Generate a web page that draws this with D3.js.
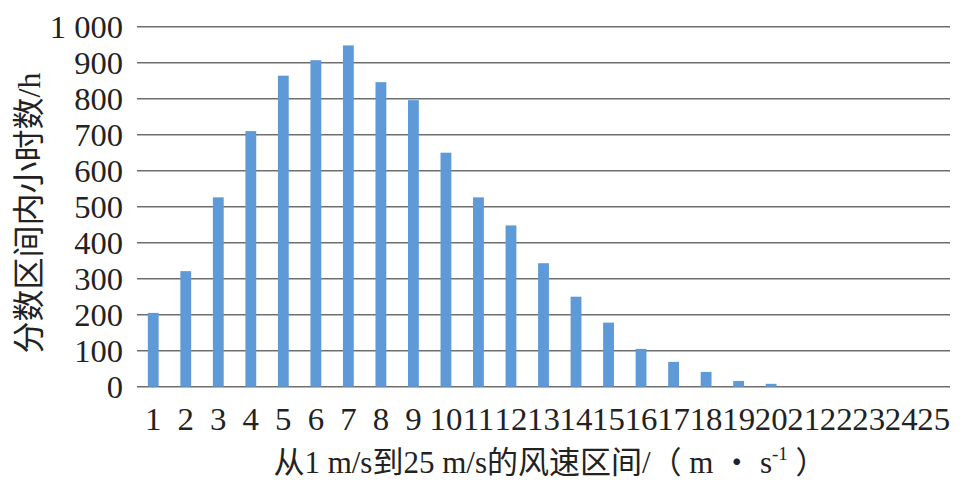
<!DOCTYPE html>
<html>
<head>
<meta charset="utf-8">
<script src="https://cdn.jsdelivr.net/npm/d3@7"></script>
<style>
  html, body { margin: 0; padding: 0; background: #fff; }
  svg { display: block; }
  text { font-family: "Liberation Serif", "Noto Sans CJK SC", serif; fill: #222; }
</style>
</head>
<body>
<svg id="chart" width="965" height="489"></svg>
<script>
const categories = ["1","2","3","4","5","6","7","8","9","10","11","12","13","14","15","16","17","18","19","20","21","22","23","24","25"];
const hours = [205, 321, 526, 710, 864, 907, 948, 846, 796, 650, 526, 448, 343, 250, 178, 105, 69, 41, 16, 8, 0, 0, 0, 0, 0];
const yTicks = [0, 100, 200, 300, 400, 500, 600, 700, 800, 900, 1000];
const yTickLabels = ["0", "100", "200", "300", "400", "500", "600", "700", "800", "900", "1 000"];
const xTitleMain = "从1 m/s到25 m/s的风速区间/（ m ・ s";
const xTitleSup = "-1";
const xTitleEnd = " ）";
const yTitle = "分数区间内小时数/h";

const svg = d3.select("#chart");
const plotLeft = 137, plotRight = 950, plotTop = 26.7, plotBottom = 386.7;

const x = d3.scaleBand().domain(categories).range([plotLeft, plotRight]).paddingInner(0.667).paddingOuter(0.333);
const y = d3.scaleLinear().domain([0, 1000]).range([plotBottom, plotTop]);

// gridlines
svg.append("g").selectAll("line").data(yTicks).join("line")
  .attr("x1", plotLeft).attr("x2", plotRight)
  .attr("y1", d => y(d)).attr("y2", d => y(d))
  .attr("stroke", "#6e6e6e").attr("stroke-width", 1.4);

// bars
svg.append("g").selectAll("rect").data(hours).join("rect")
  .attr("x", (d, i) => x(categories[i]))
  .attr("width", x.bandwidth())
  .attr("y", d => y(d))
  .attr("height", d => plotBottom - y(d))
  .attr("fill", "#5f9ad8");

// y tick labels
svg.append("g").selectAll("text").data(yTicks).join("text")
  .attr("transform", d => `translate(123,${y(d) + 11}) scale(1.05,1)`)
  .attr("text-anchor", "end")
  .attr("font-size", 31)
  .text((d, i) => yTickLabels[i]);

// x tick labels
svg.append("g").selectAll("text").data(categories).join("text")
  .attr("transform", d => `translate(${x(d) + x.bandwidth() / 2},430) scale(1.06,1)`)
  .attr("text-anchor", "middle")
  .attr("font-size", 31)
  .text(d => d);

// x title
const xt = svg.append("text")
  .attr("x", 550).attr("y", 473)
  .attr("text-anchor", "middle")
  .attr("font-size", 31);
xt.append("tspan").text(xTitleMain);
xt.append("tspan").attr("font-size", 19).attr("dy", -13).text(xTitleSup);
xt.append("tspan").attr("dy", 13).text(xTitleEnd);

// y title
svg.append("text")
  .attr("transform", "translate(40,213) rotate(-90)")
  .attr("text-anchor", "middle")
  .attr("font-size", 32)
  .text(yTitle);
</script>
</body>
</html>
